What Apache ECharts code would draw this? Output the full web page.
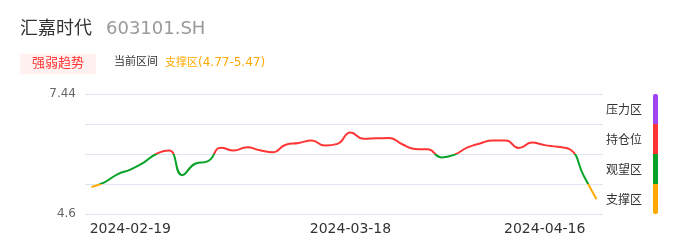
<!DOCTYPE html>
<html>
<head>
<meta charset="utf-8">
<script src="https://cdn.jsdelivr.net/npm/echarts@6/dist/echarts.min.js"></script>
<style>
html,body{margin:0;padding:0;background:#fff;}
#c{width:686px;height:247px;}
</style>
</head>
<body>
<div id="c"></div>
<script>
const dates = [
  '2024-02-06','2024-02-07','2024-02-08','2024-02-19','2024-02-20','2024-02-21','2024-02-22','2024-02-23',
  '2024-02-26','2024-02-27','2024-02-28','2024-03-01','2024-03-04','2024-03-05','2024-03-07','2024-03-08',
  '2024-03-11','2024-03-12','2024-03-14','2024-03-15','2024-03-18','2024-03-19','2024-03-20','2024-03-21',
  '2024-03-22','2024-03-25','2024-03-26','2024-03-28','2024-03-29','2024-04-01','2024-04-02','2024-04-08',
  '2024-04-09','2024-04-11','2024-04-12','2024-04-16','2024-04-17','2024-04-18','2024-04-19','2024-04-22'
];
const prices = [
  5.24, 5.35, 5.54, 5.65, 5.81, 6.02, 6.10, 5.52, 5.79, 5.85,
  6.17, 6.10, 6.18, 6.11, 6.06, 6.24, 6.28, 6.34, 6.22, 6.26,
  6.53, 6.38, 6.39, 6.40, 6.25, 6.14, 6.13, 5.94, 6.00, 6.17,
  6.27, 6.34, 6.34, 6.16, 6.29, 6.23, 6.19, 6.12, 5.51, 4.95
];
const xTickLabels = ['2024-02-19','2024-03-18','2024-04-16'];
const yTickLabels = ['4.6','7.44'];
const zoneBounds = [4.6, 5.31, 6.02, 6.73, 7.44];
const zoneNames = ['支撑区','观望区','持仓位','压力区'];
const zoneColors = ['#ffa800','#08a228','#ff3535','#a046f0'];
const stockName = '汇嘉时代';
const stockCode = '603101.SH';
const badgeText = '强弱趋势';
const rangeLabel = '当前区间';
const rangeZone = '支撑区';
const rangeValue = '(4.77-5.47)';

const FONT = '"DejaVu Sans", "Noto Sans CJK SC", sans-serif';
const chart = echarts.init(document.getElementById('c'));

const pieces = zoneNames.map((n, i) => {
  const p = { color: zoneColors[i] };
  if (i > 0) p.gte = zoneBounds[i];
  if (i < zoneNames.length - 1) p.lt = zoneBounds[i + 1];
  return p;
});

const zoneSeries = [{
  type: 'bar', xAxisIndex: 1, yAxisIndex: 1, stack: 'z', barWidth: 5,
  data: [zoneBounds[0]], itemStyle: { color: 'transparent' }, silent: true
}].concat(zoneNames.map((n, i) => ({
  type: 'bar', xAxisIndex: 1, yAxisIndex: 1, stack: 'z', barWidth: 5,
  name: n,
  data: [+(zoneBounds[i + 1] - zoneBounds[i]).toFixed(2)],
  itemStyle: {
    color: zoneColors[i],
    borderRadius: i === 0 ? [0, 0, 2, 2] : (i === zoneNames.length - 1 ? [2, 2, 0, 0] : 0)
  },
  label: {
    show: true, position: 'left', distance: 11, offset: [0, 2],
    formatter: n, color: '#333', fontSize: 12, fontFamily: FONT
  }
})));

chart.setOption({
  animation: false,
  graphic: [
    { type: 'text', left: 20, top: 20, style: { text: stockName, fontSize: 18, fill: '#333', fontFamily: FONT } },
    { type: 'text', left: 106, top: 20, style: { text: stockCode, fontSize: 18, fill: '#999', fontFamily: FONT } },
    { type: 'rect', shape: { x: 20, y: 54, width: 76, height: 20 }, style: { fill: '#fff1ef' } },
    { type: 'text', left: 32, top: 57, style: { text: badgeText, fontSize: 13, fill: '#ff3535', fontFamily: FONT } },
    { type: 'text', left: 114, top: 57, style: { text: rangeLabel, fontSize: 11, fill: '#333', fontFamily: FONT } },
    { type: 'text', left: 165, top: 57, style: {
        text: '{z|' + rangeZone + '}{v|' + rangeValue + '}',
        rich: {
          z: { fontSize: 11, fill: '#ffa800', color: '#ffa800', fontFamily: FONT },
          v: { fontSize: 12, fill: '#ffa800', color: '#ffa800', fontFamily: FONT }
        }
      } }
  ],
  grid: [
    { left: 85, right: 83, top: 94, bottom: 33 },
    { left: 653, width: 5, top: 94, bottom: 33 }
  ],
  xAxis: [{
    type: 'category', data: dates, boundaryGap: true,
    axisLine: { show: false }, axisTick: { show: false },
    axisLabel: {
      interval: (i, v) => xTickLabels.includes(v),
      formatter: v => (xTickLabels.includes(v) ? v : ''),
      color: '#333', fontSize: 14, fontFamily: FONT, margin: 8
    },
    splitLine: { show: false }
  }, {
    type: 'category', gridIndex: 1, data: ['zone'], show: false
  }],
  yAxis: [{
    type: 'value', min: zoneBounds[0], max: zoneBounds[4], interval: +(zoneBounds[1] - zoneBounds[0]).toFixed(2),
    axisLine: { show: false }, axisTick: { show: false },
    axisLabel: {
      formatter: v => {
        const s = String(+v.toFixed(2));
        return yTickLabels.includes(s) ? s : '';
      },
      color: '#666', fontSize: 12, fontFamily: FONT, margin: 9
    },
    splitLine: { lineStyle: { color: '#e0e6f1', width: 1 } }
  }, {
    type: 'value', gridIndex: 1, min: zoneBounds[0], max: zoneBounds[4], show: false
  }],
  visualMap: {
    show: false, type: 'piecewise', seriesIndex: 0, dimension: 1, pieces: pieces
  },
  series: [{
    type: 'line', data: prices, smooth: true, showSymbol: false, symbol: 'none',
    lineStyle: { width: 2 }
  }].concat(zoneSeries)
});
</script>
</body>
</html>
